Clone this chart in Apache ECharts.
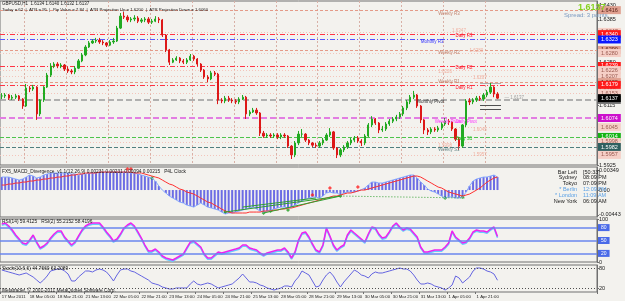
<!DOCTYPE html>
<html><head><meta charset="utf-8">
<script src="https://cdn.jsdelivr.net/npm/echarts@6/dist/echarts.min.js"></script>
<style>html,body{margin:0;padding:0;background:#f4f4f0}#c{width:625px;height:301px}</style>
</head><body><div id="c"></div>
<script>
// ---------------- DATA ----------------
const firstOpen = 1.6144;
const closes = [1.6144,1.6147,1.6137,1.6140,1.6144,1.6134,1.6112,1.6169,1.6166,1.6172,
 1.6087,1.6131,1.6172,1.6210,1.6239,1.6245,1.6239,1.6242,1.6229,1.6223,
 1.6220,1.6232,1.6255,1.6274,1.6299,1.6312,1.6318,1.6321,1.6315,1.6312,
 1.6305,1.6315,1.6318,1.6359,1.6397,1.6394,1.6385,1.6388,1.6391,1.6381,
 1.6385,1.6388,1.6378,1.6381,1.6388,1.6385,1.6337,1.6290,1.6251,1.6258,
 1.6264,1.6255,1.6251,1.6258,1.6270,1.6261,1.6245,1.6226,1.6204,1.6198,
 1.6217,1.6213,1.6131,1.6128,1.6137,1.6131,1.6128,1.6125,1.6134,1.6140,
 1.6087,1.6093,1.6099,1.6090,1.6026,1.6017,1.6020,1.6017,1.6020,1.6014,
 1.6020,1.6017,1.5985,1.5957,1.5995,1.6023,1.6023,1.6004,1.5995,1.5988,
 1.5985,1.5995,1.6004,1.6020,1.6030,1.5979,1.5957,1.5973,1.5982,1.5995,
 1.6004,1.6011,1.6001,1.5995,1.6017,1.6052,1.6071,1.6058,1.6036,1.6039,
 1.6055,1.6064,1.6071,1.6077,1.6087,1.6106,1.6125,1.6140,1.6147,1.6112,
 1.6068,1.6036,1.6030,1.6039,1.6036,1.6042,1.6055,1.6064,1.6061,1.6039,
 1.6007,1.5985,1.6052,1.6128,1.6125,1.6131,1.6137,1.6134,1.6147,1.6156,
 1.6172,1.6150,1.6137];
const highs = [1.6153,1.6153,1.6150,1.6147,1.6150,1.6147,1.6137,1.6182,1.6175,1.6179,
 1.6175,1.6134,1.6175,1.6217,1.6248,1.6251,1.6251,1.6248,1.6245,1.6236,
 1.6229,1.6239,1.6261,1.6280,1.6305,1.6318,1.6324,1.6328,1.6328,1.6321,
 1.6315,1.6321,1.6328,1.6366,1.6407,1.6410,1.6400,1.6394,1.6400,1.6397,
 1.6391,1.6394,1.6394,1.6388,1.6397,1.6394,1.6388,1.6340,1.6293,1.6264,
 1.6270,1.6267,1.6261,1.6264,1.6277,1.6274,1.6264,1.6248,1.6229,1.6210,
 1.6223,1.6223,1.6217,1.6137,1.6144,1.6144,1.6137,1.6134,1.6140,1.6147,
 1.6144,1.6099,1.6106,1.6106,1.6093,1.6033,1.6026,1.6026,1.6026,1.6026,
 1.6026,1.6026,1.6020,1.5988,1.6001,1.6033,1.6039,1.6026,1.6007,1.5998,
 1.5995,1.6001,1.6011,1.6026,1.6042,1.6033,1.5982,1.5979,1.5988,1.6001,
 1.6011,1.6017,1.6017,1.6007,1.6023,1.6058,1.6080,1.6074,1.6061,1.6049,
 1.6061,1.6071,1.6077,1.6084,1.6093,1.6112,1.6131,1.6147,1.6160,1.6150,
 1.6115,1.6071,1.6042,1.6045,1.6045,1.6049,1.6061,1.6074,1.6071,1.6064,
 1.6042,1.6014,1.6055,1.6134,1.6137,1.6137,1.6144,1.6144,1.6153,1.6163,
 1.6185,1.6175,1.6156];
const lows = [1.6134,1.6137,1.6131,1.6131,1.6134,1.6128,1.6103,1.6109,1.6156,1.6160,
 1.6068,1.6080,1.6125,1.6169,1.6204,1.6232,1.6232,1.6232,1.6223,1.6217,
 1.6213,1.6213,1.6229,1.6251,1.6270,1.6296,1.6309,1.6312,1.6309,1.6305,
 1.6299,1.6302,1.6309,1.6315,1.6356,1.6388,1.6378,1.6378,1.6381,1.6375,
 1.6375,1.6378,1.6372,1.6372,1.6378,1.6375,1.6331,1.6283,1.6242,1.6248,
 1.6255,1.6248,1.6245,1.6245,1.6255,1.6255,1.6239,1.6220,1.6198,1.6188,
 1.6194,1.6207,1.6118,1.6121,1.6121,1.6125,1.6121,1.6118,1.6118,1.6131,
 1.6071,1.6080,1.6090,1.6084,1.6017,1.6011,1.6011,1.6011,1.6011,1.6007,
 1.6007,1.6011,1.5979,1.5944,1.5950,1.5988,1.6014,1.5998,1.5988,1.5982,
 1.5979,1.5979,1.5988,1.6001,1.6014,1.5973,1.5947,1.5950,1.5966,1.5976,
 1.5988,1.5998,1.5995,1.5985,1.5988,1.6014,1.6045,1.6052,1.6026,1.6030,
 1.6033,1.6049,1.6058,1.6064,1.6071,1.6080,1.6099,1.6118,1.6134,1.6106,
 1.6058,1.6023,1.6020,1.6023,1.6030,1.6030,1.6036,1.6049,1.6052,1.6033,
 1.6001,1.5973,1.5979,1.6045,1.6115,1.6118,1.6125,1.6128,1.6128,1.6140,
 1.6150,1.6140,1.6134];
const macdHist = [0.00231,0.00231,0.00231,0.00214,0.00196,0.00178,0.00196,0.00231,0.00267,0.00249,
 0.00214,0.00231,0.00267,0.00285,0.00303,0.00303,0.00303,0.00303,0.00303,0.00303,
 0.00285,0.00285,0.00267,0.00285,0.00285,0.00303,0.00303,0.00303,0.00320,0.00320,
 0.00320,0.00320,0.00320,0.00320,0.00320,0.00320,0.00320,0.00303,0.00303,0.00285,
 0.00267,0.00249,0.00231,0.00214,0.00160,0.00071,0.00000,-0.00053,-0.00107,-0.00142,
 -0.00178,-0.00214,-0.00231,-0.00267,-0.00285,-0.00303,-0.00267,-0.00231,-0.00267,-0.00303,
 -0.00320,-0.00338,-0.00356,-0.00392,-0.00427,-0.00409,-0.00409,-0.00392,-0.00374,-0.00356,
 -0.00338,-0.00320,-0.00303,-0.00338,-0.00374,-0.00392,-0.00374,-0.00356,-0.00338,-0.00320,
 -0.00303,-0.00303,-0.00320,-0.00303,-0.00267,-0.00231,-0.00196,-0.00160,-0.00142,-0.00125,
 -0.00125,-0.00142,-0.00107,-0.00053,-0.00036,-0.00053,-0.00053,-0.00089,-0.00053,-0.00036,
 -0.00036,-0.00036,-0.00018,0.00005,0.00036,0.00089,0.00142,0.00142,0.00125,0.00125,
 0.00142,0.00160,0.00178,0.00196,0.00214,0.00231,0.00249,0.00267,0.00267,0.00214,
 0.00142,0.00089,0.00018,-0.00018,-0.00036,-0.00071,-0.00107,-0.00142,-0.00125,-0.00125,
 -0.00142,-0.00142,-0.00125,-0.00036,0.00071,0.00160,0.00196,0.00214,0.00231,0.00231,
 0.00249,0.00267,0.00231];
const macdSignal = [0.00089,0.00089,0.00107,0.00107,0.00125,0.00125,0.00142,0.00142,0.00160,0.00160,
 0.00178,0.00178,0.00196,0.00196,0.00214,0.00214,0.00231,0.00231,0.00249,0.00249,
 0.00267,0.00267,0.00285,0.00285,0.00303,0.00303,0.00303,0.00303,0.00320,0.00320,
 0.00320,0.00320,0.00320,0.00320,0.00320,0.00320,0.00320,0.00320,0.00303,0.00303,
 0.00303,0.00285,0.00267,0.00249,0.00231,0.00214,0.00178,0.00142,0.00107,0.00089,
 0.00053,0.00018,0.00000,-0.00036,-0.00053,-0.00071,-0.00107,-0.00142,-0.00178,-0.00214,
 -0.00231,-0.00267,-0.00303,-0.00338,-0.00374,-0.00392,-0.00409,-0.00409,-0.00409,-0.00409,
 -0.00409,-0.00392,-0.00392,-0.00392,-0.00392,-0.00374,-0.00374,-0.00374,-0.00356,-0.00356,
 -0.00338,-0.00338,-0.00320,-0.00320,-0.00303,-0.00285,-0.00267,-0.00249,-0.00231,-0.00214,
 -0.00196,-0.00178,-0.00160,-0.00142,-0.00125,-0.00107,-0.00107,-0.00089,-0.00071,-0.00053,
 -0.00053,-0.00036,-0.00018,0.00000,0.00000,0.00018,0.00036,0.00053,0.00071,0.00089,
 0.00107,0.00125,0.00142,0.00160,0.00178,0.00196,0.00214,0.00231,0.00249,0.00249,
 0.00231,0.00196,0.00160,0.00125,0.00089,0.00053,0.00036,0.00000,-0.00036,-0.00053,
 -0.00071,-0.00089,-0.00107,-0.00089,-0.00071,-0.00036,0.00000,0.00036,0.00089,0.00142,
 0.00178,0.00214,0.00231];
const rsiValues = [88.4,90.7,83.7,74.4,62.8,53.5,44.2,41.9,51.2,62.8,
 46.5,32.6,37.2,44.2,55.8,65.1,72.1,72.1,58.1,48.8,
 39.5,46.5,60.5,74.4,83.7,88.4,90.7,90.7,90.7,81.4,
 69.8,60.5,48.8,53.5,65.1,79.1,86.0,90.7,83.7,69.8,
 55.8,39.5,25.6,25.6,30.2,23.3,14.0,9.3,7.0,4.7,
 9.3,14.0,18.6,32.6,46.5,48.8,41.9,34.9,18.6,9.3,
 9.3,16.3,23.3,20.9,23.3,25.6,27.9,30.2,32.6,39.5,
 39.5,32.6,30.2,27.9,20.9,16.3,20.9,23.3,25.6,27.9,
 27.9,32.6,23.3,9.3,23.3,51.2,67.4,69.8,58.1,41.9,
 27.9,23.3,39.5,79.1,60.5,39.5,27.9,34.9,39.5,62.8,
 74.4,67.4,60.5,53.5,46.5,65.1,81.4,79.1,65.1,55.8,
 58.1,69.8,83.7,90.7,81.4,74.4,79.1,76.7,67.4,58.1,
 34.9,23.3,23.3,25.6,27.9,27.9,27.9,34.9,44.2,72.1,
 58.1,51.2,44.2,46.5,55.8,69.8,74.4,72.1,72.1,69.8,
 76.7,81.4,59.4];
const stochValues = [75.2,72.2,69.3,66.3,63.3,60.4,63.3,66.3,60.4,54.4,
 45.6,36.7,45.6,57.4,72.2,75.2,78.1,78.1,72.2,63.3,
 42.6,42.6,54.4,63.3,72.2,72.2,69.3,75.2,78.1,75.2,
 69.3,57.4,42.6,60.4,75.2,78.1,78.1,72.2,69.3,63.3,
 57.4,51.5,45.6,36.7,33.7,30.7,24.8,21.9,18.9,18.9,
 21.9,21.9,21.9,21.9,33.7,42.6,33.7,30.7,33.7,36.7,
 33.7,27.8,21.9,24.8,27.8,30.7,33.7,42.6,51.5,63.3,
 51.5,39.6,39.6,36.7,30.7,27.8,21.9,18.9,15.9,18.9,
 21.9,27.8,27.8,24.8,42.6,54.4,72.2,66.3,60.4,42.6,
 24.8,27.8,45.6,60.4,69.3,57.4,39.6,24.8,39.6,51.5,
 63.3,75.2,69.3,60.4,57.4,51.5,63.3,69.3,66.3,66.3,
 69.3,72.2,75.2,78.1,81.1,78.1,78.1,72.2,60.4,45.6,
 33.7,33.7,36.7,33.7,27.8,24.8,21.9,15.9,21.9,30.7,
 57.4,51.5,36.7,45.6,54.4,72.2,81.1,81.1,78.1,72.2,
 69.3,63.3,44.8];
const timeLabels = ['17 Mar 2011','18 Mar 05:00','18 Mar 21:00','21 Mar 13:00','22 Mar 05:00','22 Mar 21:00',
 '23 Mar 13:00','24 Mar 05:00','24 Mar 21:00','25 Mar 13:00','28 Mar 05:00','28 Mar 21:00',
 '29 Mar 13:00','30 Mar 05:00','30 Mar 21:00','31 Mar 13:00','1 Apr 05:00','1 Apr 21:00'];
const totalSlots = 171;
const priceTicks = [1.6430,1.6385,1.6295,1.6250,1.6160,1.6115,1.5925];
const currentPrice = 1.6137;
const pivotPrices = [1.6416,1.6347,1.6340,1.6323,1.6290,1.6280,1.6239,1.6226,1.6207,1.6188,1.6179,1.6153,1.6131,1.6074,1.6045,1.6014,1.5998,1.5982,1.5957];
const pivotKinds  = ['weekly','mid','daily','monthly','weekly','mid','daily','mid','mid','weekly','daily','mid','mpivot','pivot','mid','s1d','mid','s1w','mid'];
const annoText  = ['Weekly R3','1.6347','Daily R3','Monthly R3','Weekly R2','1.6280','Daily R2','1.6226','1.6207','Weekly R1','Daily R1','Monthly Pivot','Weekly Pivot','Daily Pivot','1.6045','Daily S1','1.5998','Weekly S1','1.5957','\u2014 1.6137'];
const annoSlot  = [125,129,130,120,125,134,130,125,135,125,130,119,124,130,135,130,125,125,135,144];
const annoPrice = [1.6404,1.6350,1.6334,1.6315,1.6280,1.6286,1.6232,1.6220,1.6201,1.6188,1.6169,1.6125,1.6061,1.6061,1.6036,1.6007,1.5985,1.5973,1.5957,1.6137];
const annoKind  = ['weekly','mid','daily','monthly','weekly','mid','daily','mid','mid','weekly','daily','mpivot','pivot','pivot','mid','s1d','mid','s1w','mid','cur'];
const projSlots = [137,143];
const projPrices = [1.6185,1.6115,1.6103];
const macdTicks = [0.00349,0,-0.00443];
const divLines = [[64,-0.00392,97,-0.00107],[75,-0.00409,97,-0.00107],[69,-0.00303,90,-0.00142]];
const divDotted = [97,-0.00107,133,-0.00142];
const greenMarks = [[43,0.00214],[64,-0.00392],[75,-0.00409],[77,-0.00374],[82,-0.00356],[97,-0.00107],[127,-0.00142],[132,-0.00125]];
const redMarks = [[36,0.00374],[37,0.00374],[89,-0.00089],[94,0.00036],[102,0.00053]];
const rsiLevels = [80,50,20];
const stochLevels = [80,20];
const clockRows = [['Bar Left','[50:33]'],['Sydney','08:09 PM'],['Tokyo','07:09 PM'],['* Berlin','12:09 PM'],['* London','11:09 AM'],['New York','06:09 AM']];
const clockHighlight = [false,false,false,true,true,false];

// ---------------- STYLE ----------------
const FONT = 'Liberation Sans';
const AX = '#707070';
const pivotStyle = {
  weekly:{line:'#e49a88',type:[3,2],w:1,bg:'#e0a090',fg:'#5a2418',txt:'#c0806c'},
  mid:{line:'#f3c4ba',type:[1,2],w:1,bg:'#f6cfc6',fg:'#9a5a50',txt:'#f0b0a0'},
  daily:{line:'#ff3344',type:[5,2,1,2],w:1,bg:'#ff1a1a',fg:'#ffffff',txt:'#ff2030'},
  monthly:{line:'#5555ff',type:[5,2,1,2],w:1,bg:'#0a18ff',fg:'#ffffff',txt:'#3030ff'},
  mpivot:{line:'#9a9a9a',type:[6,3],w:1.5,bg:'#7a7a7a',fg:'#ffffff',txt:'#303030'},
  pivot:{line:'#e27ee2',type:[6,3],w:2,bg:'#cc10cc',fg:'#ffffff',txt:'#ff30ff'},
  s1d:{line:'#4cc44c',type:[4,2],w:1,bg:'#14b414',fg:'#ffffff',txt:'#20c020'},
  s1w:{line:'#4f7f7f',type:[4,2],w:1,bg:'#2f6060',fg:'#ffffff',txt:'#6a8a8a'},
  cur:{txt:'#a0a0a0'}
};

const cats = Array.from({length: totalSlots}, (_, i) => String(i));
const candleData = closes.map((c, i) => [i === 0 ? firstOpen : closes[i - 1], c, lows[i], highs[i]]);

const gridBase = {left:0, width:597, show:true, borderColor:AX, borderWidth:1, backgroundColor:'transparent', containLabel:false, outerBoundsMode:'none'};
const grids = [
  Object.assign({top:1, height:164}, gridBase),
  Object.assign({top:167, height:50}, gridBase),
  Object.assign({top:219, height:43}, gridBase),
  Object.assign({top:265, height:27}, gridBase)
];
const isLabelSlot = (i) => i % 8 === 0 && i / 8 < timeLabels.length;
const xAxes = grids.map((g, k) => ({
  type:'category', gridIndex:k, data:cats, boundaryGap:true,
  axisLine:{show:false},
  axisTick: k === 3 ? {show:true, interval:isLabelSlot, length:2, lineStyle:{color:AX}} : {show:false},
  axisLabel: k === 3 ? {show:true, interval:isLabelSlot, formatter:(v, i) => timeLabels[i / 8] || '', align:'left', fontSize:4.3, margin:2.5, color:'#202020', fontFamily:FONT} : {show:false},
  splitLine: k === 0 ? {show:true, interval:(i) => i >= 7 && i <= 139 && (i - 7) % 12 === 0, lineStyle:{color:'#d8b0a6', type:[2,2], width:1}} : {show:false}
}));
function yAx(k, min, max, ticks, fmt) {
  return {type:'value', gridIndex:k, position:'right', min, max, scale:true,
    axisLine:{show:true, lineStyle:{color:AX}}, splitLine:{show:false},
    axisTick:{show:true, length:2, customValues:ticks, lineStyle:{color:AX}},
    axisLabel:{show:true, customValues:ticks, formatter:fmt, fontSize:5.5, margin:2, color:'#202020', fontFamily:FONT}};
}
const yAxes = [
  yAx(0, 1.5925, 1.6445, priceTicks, v => v.toFixed(4)),
  yAx(1, -0.0048, 0.0041, macdTicks, v => v === 0 ? '0.00' : v.toFixed(5)),
  yAx(2, 0, 100, [100, 0], v => String(v)),
  yAx(3, 10, 90, stochLevels, v => String(v))
];

const pivotLines = pivotPrices.map((p, k) => {
  const s = pivotStyle[pivotKinds[k]];
  return {yAxis:p, lineStyle:{color:s.line, type:s.type, width:s.w},
    label:{show:true, position:'end', distance:1, formatter:p.toFixed(4), backgroundColor:s.bg, color:s.fg, fontSize:5.5, padding:[1,3], fontFamily:FONT}};
});
pivotLines.push({yAxis:currentPrice, lineStyle:{color:'rgba(0,0,0,0)', width:0},
  label:{show:true, position:'end', distance:1, formatter:currentPrice.toFixed(4), backgroundColor:'#000000', color:'#ffffff', fontSize:5.5, padding:[1,3], fontFamily:FONT}});
projPrices.forEach((p, k) => {
  pivotLines.push([{coord:[String(projSlots[0]), p], lineStyle:{color:k === 0 ? '#b0b0b0' : '#505050', type:'solid', width:1}, label:{show:false}},
                   {coord:[String(projSlots[1]), p]}]);
});
const annoPoints = annoText.map((t, k) => ({
  coord:[String(annoSlot[k]), annoPrice[k]], symbol:'circle', symbolSize:0,
  label:{show:true, position:'right', distance:0, formatter:t, color:pivotStyle[annoKind[k]].txt, fontSize:4.5, fontFamily:FONT}
}));

const divMarkLines = divLines.map(d => [{coord:[String(d[0]), d[1]]}, {coord:[String(d[2]), d[3]]}]);
divMarkLines.push([{coord:[String(divDotted[0]), divDotted[1]], lineStyle:{type:[1,2]}}, {coord:[String(divDotted[2]), divDotted[3]]}]);

function txt(x, y, text, size, color, align, weight) {
  return {type:'text', x, y, silent:true, z:100,
    style:{text, fill:color, fontSize:size, fontFamily:FONT, fontWeight:weight || 'normal',
      textAlign:align || 'left', align:align || 'left', textVerticalAlign:'middle', verticalAlign:'middle'}};
}
const graphics = [
  txt(2, 3.5, 'GBPUSD,H1  1.6134 1.6140 1.6132 1.6137', 4.5, '#202020'),
  txt(2, 10, 'Today = 62  |  ATR = 95  |  Pip Value = 7.84  |  ATR Projection Up = 1.6200  |  ATR Projection Down = 1.6060', 4.3, '#202020'),
  txt(578, 8, '1.6137', 9, '#86d21e', 'left', 'bold'),
  txt(564, 15.5, 'Spread: 3 points.', 6, '#7a9ac0'),
  txt(2, 172, 'FX5_MACD_Divergence_v1.1(12,26,9) 0.00231 0.00231 0.00094 0.00215   P4L Clock', 4.8, '#202020'),
  txt(2, 222, 'RSI(14) 59.4125   RSI(2) 55.2152 58.4196', 4.8, '#202020'),
  txt(2, 269, 'Stoch(10,6,6) 44.7660 63.2089', 4.8, '#202020'),
  txt(2, 291, 'Metatrader, \u00a9 2001-2011 MetaQuotes Software Corp.', 4.8, '#202020')
];
clockRows.forEach((r, k) => {
  const col = clockHighlight[k] ? '#5aa0e6' : '#202020';
  graphics.push(txt(577, 172 + 5.8 * k, r[0], 5.5, col, 'right'));
  graphics.push(txt(583, 172 + 5.8 * k, r[1], 5.5, col, 'left'));
});

const option = {
  animation:false,
  backgroundColor:'#f3f2ee',
  grid:grids, xAxis:xAxes, yAxis:yAxes,
  graphic:graphics,
  series:[
    {type:'candlestick', xAxisIndex:0, yAxisIndex:0, data:candleData, barMaxWidth:2, clip:false,
      itemStyle:{color:'#22aa22', color0:'#dd1818', borderColor:'#22aa22', borderColor0:'#dd1818', borderWidth:1},
      markLine:{silent:true, symbol:['none','none'], precision:4, data:pivotLines, z:1},
      markPoint:{silent:true, data:annoPoints}},
    {type:'bar', xAxisIndex:1, yAxisIndex:1, data:macdHist, barWidth:2, itemStyle:{color:'#6c6ce4'}, silent:true},
    {type:'line', xAxisIndex:1, yAxisIndex:1, data:macdHist, symbol:'none', lineStyle:{color:'#86a8ff', width:1}, silent:true},
    {type:'line', xAxisIndex:1, yAxisIndex:1, data:macdSignal, symbol:'none', lineStyle:{color:'#ff3030', width:1}, silent:true,
      markLine:{silent:true, symbol:['none','none'], lineStyle:{color:'#30a030', width:1, type:'solid'}, label:{show:false}, data:divMarkLines}},
    {type:'scatter', xAxisIndex:1, yAxisIndex:1, data:greenMarks, symbol:'diamond', symbolSize:4, itemStyle:{color:'#20a020'}, silent:true},
    {type:'scatter', xAxisIndex:1, yAxisIndex:1, data:redMarks, symbol:'diamond', symbolSize:4, itemStyle:{color:'#ff2020'}, silent:true},
    {type:'line', xAxisIndex:2, yAxisIndex:2, data:rsiValues, symbol:'none', silent:true,
      lineStyle:{color:'#ee22ee', width:1.5, shadowColor:'#66ccff', shadowOffsetY:1.2, shadowBlur:0},
      markLine:{silent:true, symbol:['none','none'], data:rsiLevels.map(v => ({yAxis:v, lineStyle:{color:'#6a86ee', width:1.5, type:'solid'},
        label:{show:true, position:'end', distance:1, formatter:String(v), backgroundColor:'#4a6ae8', color:'#ffffff', fontSize:5, padding:[1,3], fontFamily:FONT}}))}},
    {type:'line', xAxisIndex:3, yAxisIndex:3, data:stochValues, symbol:'none', silent:true,
      lineStyle:{color:'#6464e0', width:1},
      markLine:{silent:true, symbol:['none','none'], label:{show:false}, data:stochLevels.map(v => ({yAxis:v, lineStyle:{color:'#505050', width:1, type:[1,2]}}))}}
  ]
};
echarts.init(document.getElementById('c'), null, {renderer:'canvas'}).setOption(option);
</script>
</body></html>
